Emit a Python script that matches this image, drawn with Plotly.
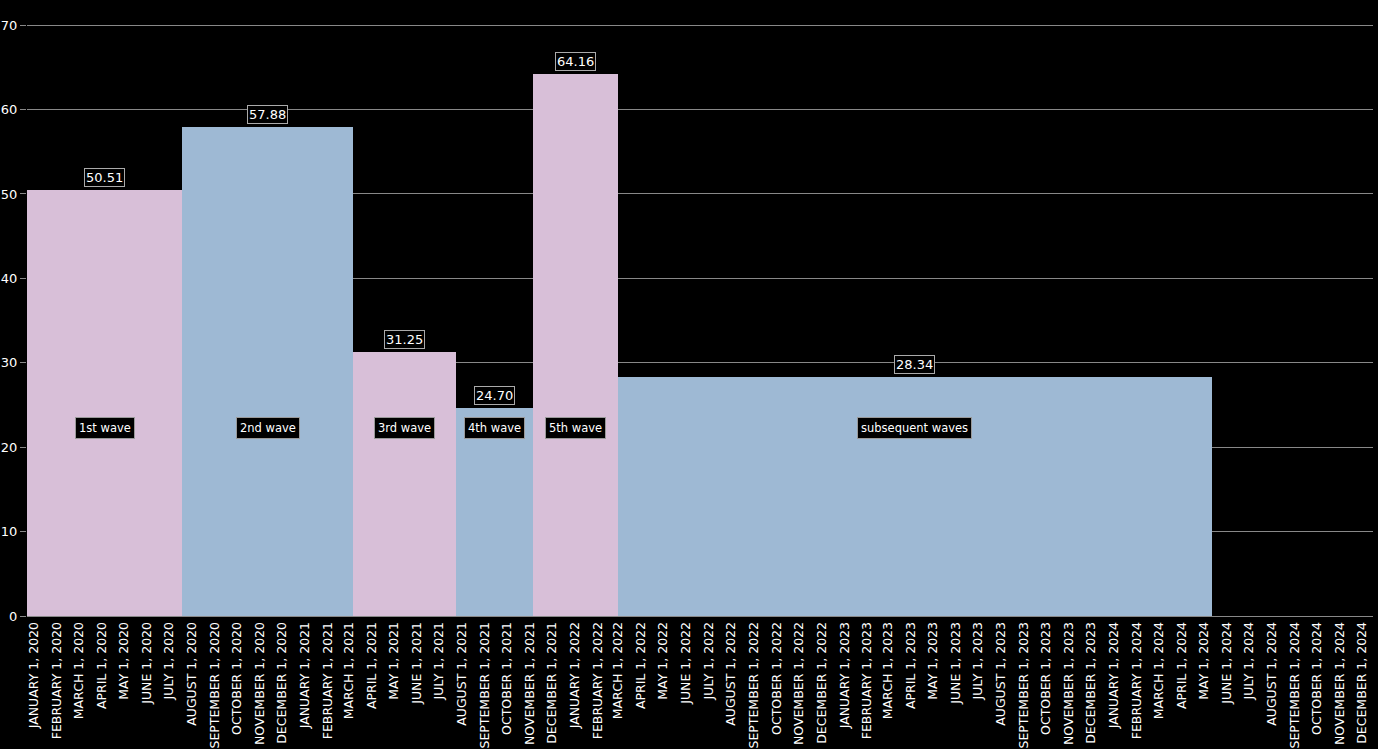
import pandas as pd
from plotly import graph_objects as go

# wave periods (start / end dates) and the values for each wave
waves = ['1st wave', '2nd wave', '3rd wave', '4th wave', '5th wave', 'subsequent waves']
starts = ['2019-12-22', '2020-07-19', '2021-03-07', '2021-07-24', '2021-11-06', '2022-02-28']
ends = ['2020-07-19', '2021-03-07', '2021-07-24', '2021-11-06', '2022-02-28', '2024-05-12']
values = [50.51, 57.88, 31.25, 24.70, 64.16, 28.34]
colors = ['#d8bfd8', '#9eb9d4', '#d8bfd8', '#9eb9d4', '#d8bfd8', '#9eb9d4']

# monthly tick labels
months = ['JANUARY', 'FEBRUARY', 'MARCH', 'APRIL', 'MAY', 'JUNE', 'JULY',
          'AUGUST', 'SEPTEMBER', 'OCTOBER', 'NOVEMBER', 'DECEMBER']
years = [2020, 2021, 2022, 2023, 2024]
tick_vals = [pd.Timestamp(y, m + 1, 1) for y in years for m in range(12)]
tick_text = [months[d.month - 1] + ' 1, ' + str(d.year) for d in tick_vals]

start_ts = pd.to_datetime(starts)
end_ts = pd.to_datetime(ends)
mids = start_ts + (end_ts - start_ts) / 2
widths = [(e - s).total_seconds() * 1000 for s, e in zip(start_ts, end_ts)]

fig = go.Figure()
fig.add_trace(go.Bar(x=mids, y=values, width=widths, marker_color=colors,
                     marker_line_width=0, hoverinfo='skip', showlegend=False))

# value labels above each bar
for m, v in zip(mids, values):
    fig.add_annotation(x=m, y=v, text='%.2f' % v, showarrow=False, yanchor='bottom', yshift=3,
                       font=dict(color='white', size=13, family='DejaVu Sans'),
                       bgcolor='black', bordercolor='#aaaaaa', borderwidth=1, borderpad=1)

# wave name labels
for m, w in zip(mids, waves):
    fig.add_annotation(x=m, y=22.3, text=w, showarrow=False,
                       font=dict(color='white', size=11.5, family='DejaVu Sans'),
                       bgcolor='black', bordercolor='#999999', borderwidth=1, borderpad=3)

fig.update_layout(
    template='none',
    width=1378, height=749,
    paper_bgcolor='black', plot_bgcolor='black',
    margin=dict(l=27, r=5, t=23, b=133),
    bargap=0,
    font=dict(family='DejaVu Sans', color='white'),
)
fig.update_xaxes(type='date', range=['2019-12-22', '2024-12-16'], automargin=False,
                 tickvals=tick_vals, ticktext=tick_text, tickangle=-90,
                 tickfont=dict(size=12.5, color='white'), showgrid=False,
                 showline=True, linecolor='#888888', linewidth=1, ticks='', zeroline=False)
fig.update_yaxes(range=[0, 70.25], tickvals=[0, 10, 20, 30, 40, 50, 60, 70], automargin=False,
                 showgrid=True, gridcolor='#888888', gridwidth=1, showline=False,
                 zeroline=False, ticks='outside', ticklen=6, tickcolor='#888888',
                 tickfont=dict(size=13, color='white'), layer='above traces')

fig.write_html("out.html", config={'displayModeBar': False},
               post_script="document.body.style.margin='0';")
